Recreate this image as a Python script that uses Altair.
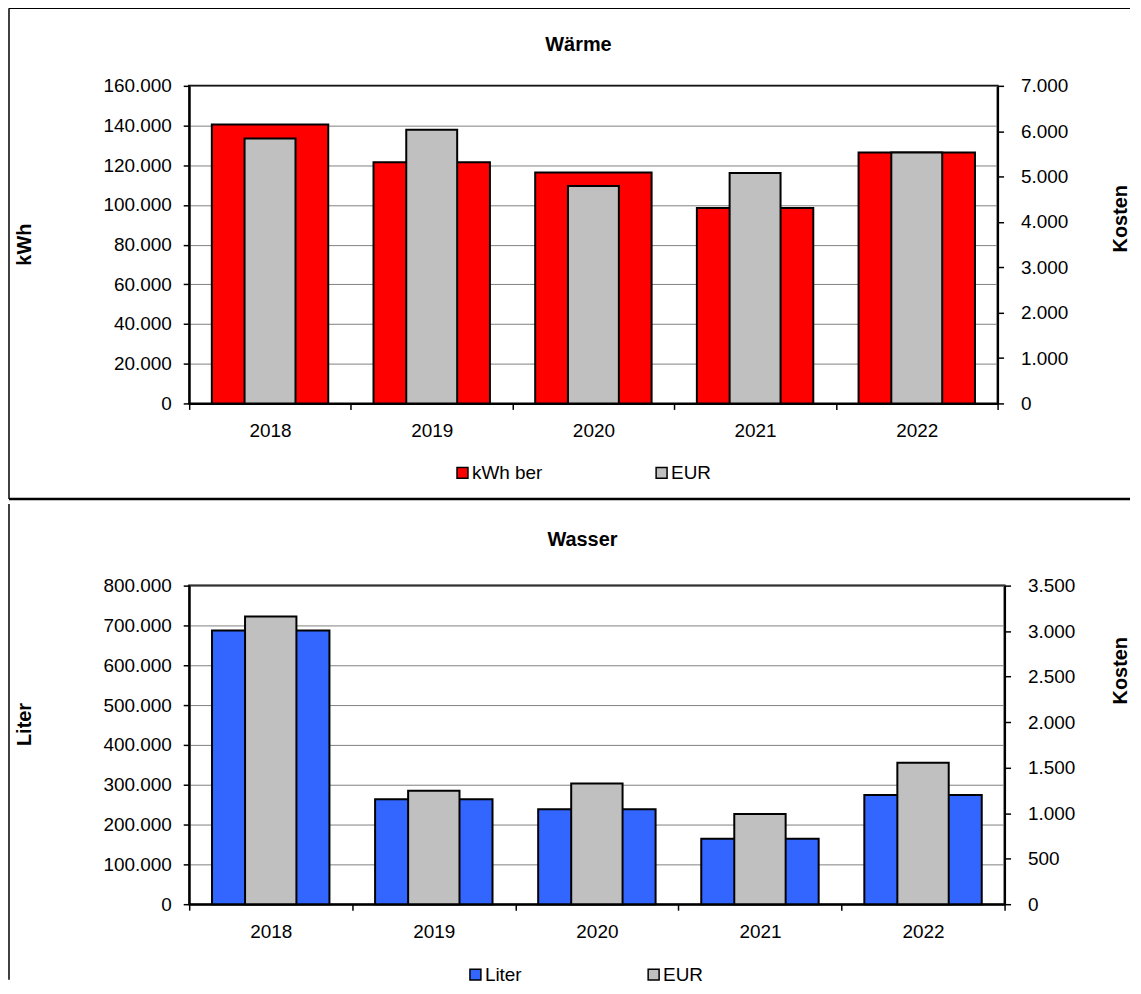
import altair as alt
import pandas as pd

# ---- data ----
jahre = ["2018", "2019", "2020", "2021", "2022"]
waerme_kwh = [140500, 121500, 116300, 98400, 126400]
waerme_eur = [5840, 6030, 4790, 5080, 5530]
wasser_liter = [687500, 263500, 238500, 164500, 274500]
wasser_eur = [3160, 1245, 1325, 990, 1555]

FONT = "Liberation Sans"
FMT = "replace(format(datum.value, ','), ',', '.')"
ONE = pd.DataFrame({"k": [0]})


def hline(y, x1, x2, w=1.5):
    return alt.Chart(ONE).mark_rule(color="black", strokeWidth=w).encode(
        y=alt.value(y), x=alt.value(x1), x2=alt.value(x2))


def vline(x, y1, y2, w=1.5):
    return alt.Chart(ONE).mark_rule(color="black", strokeWidth=w).encode(
        x=alt.value(x), y=alt.value(y1), y2=alt.value(y2))


def label(text, x, y):
    return alt.Chart(ONE).mark_text(
        text=text, font=FONT, fontSize=20, fontWeight="bold",
        align="center", baseline="middle", color="black").encode(
        x=alt.value(x), y=alt.value(y))


def panel(title, unit, series, values, eur, color, ymax, ystep, emax, estep,
          w, h, title_xy, left_ty, right_tx, right_ty, leg_x, leg_y, leg_pad,
          frames):
    df = pd.DataFrame({"Jahr": jahre, "Wert": values, "EUR": eur})
    x = alt.X("Jahr:N", sort=jahre,
              scale=alt.Scale(paddingInner=0, paddingOuter=0),
              axis=alt.Axis(title=None, tickBand="extent", labelAngle=0,
                            grid=False, labelPadding=12))
    cscale = alt.Scale(domain=[series, "EUR"], range=[color, "#C0C0C0"])
    legend = alt.Legend(title=None, orient="none", legendX=leg_x, legendY=leg_y,
                        direction="horizontal", symbolType="square",
                        symbolSize=121, symbolStrokeColor="black",
                        symbolStrokeWidth=1.5, labelFont=FONT, labelFontSize=19,
                        labelColor="black", labelOffset=0,
                        columnPadding=leg_pad, padding=0)
    main = alt.Chart(df).transform_calculate(Serie=f"'{series}'").mark_bar(
        width=alt.RelativeBandSize(0.72), stroke="black", strokeWidth=2
    ).encode(
        x=x,
        y=alt.Y("Wert:Q",
                scale=alt.Scale(domain=[0, ymax], nice=False),
                axis=alt.Axis(title=unit, orient="left", grid=True,
                              values=list(range(0, ymax + 1, ystep)),
                              labelExpr=FMT, labelPadding=12,
                              titleX=-165, titleY=left_ty, titleAngle=270,
                              titleAlign="center", titleBaseline="middle")),
        color=alt.Color("Serie:N", scale=cscale, legend=legend),
    )
    cost = alt.Chart(df).transform_calculate(Serie="'EUR'").mark_bar(
        width=alt.RelativeBandSize(0.315), stroke="black", strokeWidth=2
    ).encode(
        x=x,
        y=alt.Y("EUR:Q",
                scale=alt.Scale(domain=[0, emax], nice=False),
                axis=alt.Axis(title="Kosten", orient="right", grid=False,
                              values=list(range(0, emax + 1, estep)),
                              labelExpr=FMT, labelPadding=17,
                              titleX=right_tx, titleY=right_ty, titleAngle=270,
                              titleAlign="center", titleBaseline="middle")),
        color=alt.Color("Serie:N", scale=cscale, legend=legend),
    )
    layers = [main, cost, label(title, *title_xy)] + frames
    return alt.layer(*layers).resolve_scale(y="independent").properties(
        width=w, height=h)


top = panel("Wärme", "kWh", "kWh ber", waerme_kwh, waerme_eur, "#FF0000",
            160000, 20000, 7000, 1000, 812, 319,
            (391, -41), 159, 123, 133, 265, 379, 110,
            [hline(-78, -181, 945), vline(-181, -78, 415),
             hline(415, -181, 945, 2.5)])

bottom = panel("Wasser", "Liter", "Liter", wasser_liter, wasser_eur, "#3366FF",
               800000, 100000, 3500, 500, 819, 320,
               (395, -46), 139, 116, 85, 278, 381, 123,
               [vline(-181, -82, 396)])

chart = alt.vconcat(top, bottom, spacing=0).resolve_scale(
    color="independent").resolve_legend(color="independent").properties(
    padding={"top": -4, "left": -2, "right": 0, "bottom": 0}
).configure_view(
    stroke="black", strokeWidth=2
).configure_axis(
    labelFont=FONT, labelFontSize=19, labelColor="black",
    titleFont=FONT, titleFontSize=20, titleFontWeight="bold", titleColor="black",
    domainColor="black", domainWidth=2, tickColor="black", tickWidth=1.5,
    tickSize=6, gridColor="#808080", gridWidth=1
)

chart.save("out.html", embed_options={"renderer": "svg", "actions": False})
